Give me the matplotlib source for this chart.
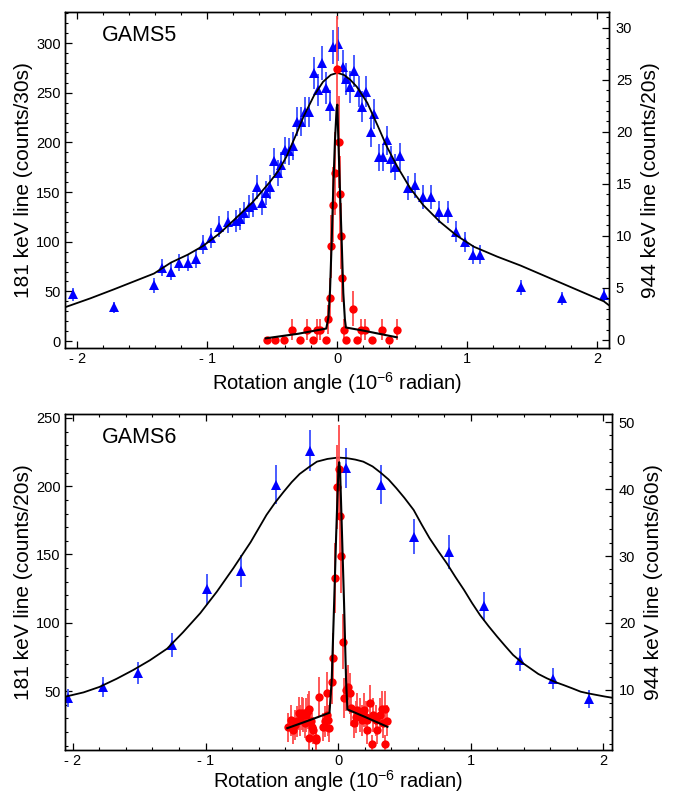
import matplotlib.pyplot as plt
from matplotlib.ticker import MultipleLocator

plt.rcParams["font.family"] = ["Liberation Sans", "DejaVu Sans"]
plt.rcParams["mathtext.fontset"] = "custom"
plt.rcParams["mathtext.rm"] = "Liberation Sans"

# ---------------- GAMS5 ----------------
g5_blue_x = [-2.03, -1.72, -1.41, -1.35, -1.28, -1.22, -1.15, -1.09, -1.03, -0.97,
             -0.91, -0.84, -0.78, -0.75, -0.72, -0.68, -0.65, -0.62, -0.58, -0.55,
             -0.52, -0.49, -0.46, -0.43, -0.40, -0.37, -0.34, -0.31, -0.28, -0.25,
             -0.22, -0.18, -0.15, -0.12, -0.09, -0.06, -0.03, 0.005, 0.04, 0.07,
             0.10, 0.13, 0.17, 0.19, 0.22, 0.26, 0.28, 0.32, 0.35, 0.38,
             0.41, 0.44, 0.48, 0.54, 0.60, 0.66, 0.72, 0.78, 0.85, 0.91,
             0.98, 1.04, 1.10, 1.41, 1.73, 2.05]
g5_blue_y = [47, 34, 56, 74, 70, 79, 79, 83, 97, 104,
             115, 120, 121, 123, 129, 135, 137, 155, 139, 149,
             155, 181, 169, 177, 192, 191, 196, 221, 221, 231,
             231, 270, 253, 280, 255, 237, 296, 299, 276, 264,
             256, 272, 251, 236, 251, 210, 229, 185, 185, 202,
             183, 175, 186, 154, 157, 145, 145, 130, 130, 110,
             100, 87, 87, 54, 43, 46]
g5_blue_err = [6.9, 5.8, 7.5, 8.6, 8.4, 8.9, 8.9, 9.1, 9.8, 10.2,
               10.7, 11.0, 11.0, 11.1, 11.4, 11.6, 11.7, 12.4, 11.8, 12.2,
               12.4, 13.5, 13.0, 13.3, 13.9, 13.8, 14.0, 14.9, 14.9, 15.2,
               15.2, 16.4, 15.9, 16.7, 16.0, 15.4, 17.2, 17.3, 16.6, 16.2,
               16.0, 16.5, 15.8, 15.4, 15.8, 14.5, 15.1, 13.6, 13.6, 14.2,
               13.5, 13.2, 13.6, 12.4, 12.5, 12.0, 12.0, 11.4, 11.4, 10.5,
               10.0, 9.3, 9.3, 7.3, 6.6, 6.8]

g5_red_x = [-0.54, -0.48, -0.41, -0.35, -0.29, -0.23, -0.19, -0.16, -0.13, -0.09,
            -0.07, -0.06, -0.045, -0.033, -0.02, -0.003, 0.01, 0.023, 0.028, 0.038,
            0.054, 0.07, 0.12, 0.15, 0.18, 0.21, 0.27, 0.34, 0.40, 0.46]
g5_red_y = [0, 0, 0, 1, 0, 1, 0, 1, 1, 0,
            2, 4, 9, 13, 16, 26, 19, 14, 10, 6,
            1, 0, 3, 0, 1, 1, 0, 1, 0, 1]
g5_red_err = [0, 0, 0, 1, 0, 1, 0, 1, 1, 0,
              1.4, 2.0, 3.0, 3.6, 4.0, 5.1, 4.4, 3.7, 3.2, 2.4,
              1, 0, 1.7, 0, 1, 1, 0, 1, 0, 1]

g5_blue_fit_x = [-2.095, -1.9, -1.72, -1.41, -1.28, -1.15, -1.03, -0.90, -0.77, -0.65,
                 -0.52, -0.45, -0.39, -0.31, -0.26, -0.18, -0.11, -0.05, 0.0, 0.05,
                 0.10, 0.15, 0.23, 0.31, 0.38, 0.46, 0.56, 0.66, 0.79, 0.92,
                 1.05, 1.23, 1.41, 1.73, 2.05, 2.09]
g5_blue_fit_y = [34, 43, 52, 68, 79, 87, 96, 109, 125, 140,
                 160, 172, 186, 210, 226, 247, 261, 268, 270, 268,
                 263, 256, 240, 217, 196, 176, 154, 137, 120, 106,
                 95, 85, 76, 58, 40, 36]

g5_red_fit_x = [-0.55, -0.30, -0.085, -0.068, -0.056, -0.043, -0.031, -0.018, -0.005, 0.0,
                0.008, 0.021, 0.034, 0.046, 0.058, 0.066, 0.20, 0.457]
g5_red_fit_y = [0.16, 0.6, 1.1, 2.2, 4.8, 9.6, 14.7, 19.2, 22.3, 22.6,
                19.2, 14.1, 9.3, 4.5, 2.0, 1.2, 0.9, 0.26]

# ---------------- GAMS6 ----------------
g6_blue_x = [-2.035, -1.77, -1.51, -1.25, -0.99, -0.73, -0.47, -0.21,
             0.06, 0.32, 0.57, 0.84, 1.10, 1.37, 1.62, 1.89]
g6_blue_y = [45, 52.7, 63, 83.7, 124.5, 138, 201, 226,
             213.6, 201, 163, 152, 112, 73, 59, 44]
g6_blue_err = [6.7, 7.3, 7.9, 9.1, 11.2, 11.7, 14.2, 15.0,
               14.6, 14.2, 12.8, 12.3, 10.6, 8.5, 7.7, 6.6]

g6_red_x = [-0.375, -0.357, -0.342, -0.325, -0.31, -0.298, -0.287, -0.275, -0.262, -0.25,
            -0.24, -0.228, -0.217, -0.217, -0.208, -0.199, -0.186, -0.17, -0.168, -0.146,
            -0.111, -0.098, -0.085, -0.081, -0.073, -0.066, -0.048, -0.04, -0.023, -0.01,
            0.005, 0.015, 0.025, 0.035, 0.045, 0.06, 0.078, 0.09, 0.10, 0.12,
            0.133, 0.146, 0.166, 0.179, 0.196, 0.208, 0.217, 0.22, 0.24, 0.254,
            0.266, 0.287, 0.297, 0.317, 0.33, 0.342, 0.357, 0.357, 0.372]
g6_red_y = [4.4, 5.5, 4.0, 4.8, 5.3, 6.5, 5.5, 6.5, 6.3, 5.0,
            6.3, 6.8, 7.1, 2.8, 5.3, 4.5, 4.0, 2.5, 2.8, 8.9,
            4.5, 5.3, 9.6, 6.3, 5.5, 4.3, 11.2, 14.7, 26.7, 40.3,
            43.0, 36.0, 30.0, 17.2, 8.8, 10.0, 10.5, 9.5, 7.3, 5.0,
            6.0, 7.0, 6.3, 5.5, 7.0, 6.0, 5.5, 4.0, 8.0, 1.9,
            6.3, 5.5, 4.0, 6.3, 7.1, 5.0, 7.1, 1.9, 5.4]
g6_red_err = [2.1, 2.3, 2.0, 2.2, 2.3, 2.5, 2.3, 2.5, 2.5, 2.2,
              2.5, 2.6, 2.7, 1.7, 2.3, 2.1, 2.0, 1.6, 1.7, 3.0,
              2.1, 2.3, 3.1, 2.5, 2.3, 2.1, 3.3, 3.8, 5.2, 6.3,
              6.6, 6.0, 5.5, 4.1, 3.0, 3.2, 3.2, 3.1, 2.7, 2.2,
              2.4, 2.6, 2.5, 2.3, 2.6, 2.4, 2.3, 2.0, 2.8, 1.4,
              2.5, 2.3, 2.0, 2.5, 2.7, 2.2, 2.7, 1.4, 2.3]

g6_blue_fit_x = [-2.06, -1.92, -1.80, -1.67, -1.545, -1.42, -1.29, -1.17, -1.04, -0.915,
                 -0.79, -0.66, -0.60, -0.54, -0.475, -0.41, -0.35, -0.29, -0.22, -0.16,
                 -0.08, 0.0, 0.07, 0.13, 0.19, 0.26, 0.32, 0.38, 0.44, 0.50,
                 0.57, 0.63, 0.69, 0.755, 0.82, 0.885, 0.95, 1.01, 1.07, 1.135,
                 1.20, 1.26, 1.32, 1.385, 1.45, 1.51, 1.575, 1.64, 1.70, 1.765,
                 1.83, 1.89, 1.95, 2.01, 2.066]
g6_blue_fit_y = [45.8, 49, 53, 59, 65.4, 72.5, 81, 93, 107, 122.7,
                 140, 159, 169, 179, 188, 196, 203, 209, 214, 218,
                 220, 221, 220.5, 219.5, 218, 214.5, 210, 205, 198.5, 191.5,
                 182.6, 172, 161.9, 152.5, 143.5, 133.5, 124, 114.5, 105.7, 97.5,
                 89.8, 83, 76.4, 71, 66.6, 62.5, 59.3, 56.5, 54.4, 52,
                 49.5, 48.2, 47.1, 46, 45.1]

g6_red_fit_x = [-0.383, -0.20, -0.065, -0.048, -0.030, -0.015, 0.002, 0.008,
                0.015, 0.030, 0.045, 0.060, 0.070, 0.20, 0.372]
g6_red_fit_y = [4.3, 5.6, 6.6, 11.5, 22.9, 32.9, 42.8, 44.0,
                42.8, 32.9, 22.9, 11.5, 7.1, 6.0, 4.5]

x_ticks = [-2, -1, 0, 1, 2]
x_tick_labels = ["- 2", "- 1", "0", "1", "2"]
x_label = r"Rotation angle (10$^{\mathregular{-6}}$ radian)"

BLUE = "#0000ff"
RED = "#ff0000"
BLUE_BAR = "#4a5cff"
RED_BAR = "#ff4a4a"


def style_axis(ax, side):
    ax.tick_params(axis="both", which="both", direction="in", labelsize=10.5,
                   top=(side == "left"), right=(side == "right"),
                   left=(side == "left"), bottom=(side == "left"))
    ax.tick_params(which="major", length=5, width=0.9)
    ax.tick_params(which="minor", length=2.5, width=0.8)
    for sp in ax.spines.values():
        sp.set_linewidth(1.0)


def panel(ax, name, bx, by, be, rx, ry, re, bfx, bfy, rfx, rfy,
          xlim, ylim_l, ylim_r, minor_l, minor_r, major_l, major_r,
          label_l, label_r, xpad):
    axr = ax.twinx()

    ax.errorbar(bx, by, yerr=be, fmt="^", color=BLUE, ms=7.5, mew=0,
                ecolor=BLUE_BAR, elinewidth=1.4, capsize=1.8, capthick=1.0, zorder=2)
    ax.plot(bfx, bfy, color="black", lw=1.3, zorder=3)

    axr.errorbar(rx, ry, yerr=re, fmt="o", color=RED, ms=6, mew=0,
                 ecolor=RED_BAR, elinewidth=1.3, capsize=1.8, capthick=1.0, zorder=2)
    axr.plot(rfx, rfy, color="black", lw=1.5, zorder=3)

    ax.set_xlim(*xlim)
    ax.set_ylim(*ylim_l)
    axr.set_ylim(*ylim_r)

    ax.set_xticks(x_ticks, x_tick_labels)
    ax.xaxis.set_minor_locator(MultipleLocator(0.2))
    ax.yaxis.set_major_locator(MultipleLocator(major_l))
    ax.yaxis.set_minor_locator(MultipleLocator(minor_l))
    axr.yaxis.set_major_locator(MultipleLocator(major_r))
    axr.yaxis.set_minor_locator(MultipleLocator(minor_r))

    style_axis(ax, "left")
    style_axis(axr, "right")
    ax.tick_params(axis="x", pad=3)
    ax.tick_params(axis="y", pad=3)
    axr.tick_params(axis="y", pad=5)

    ax.set_xlabel(x_label, fontsize=14.5, labelpad=xpad)
    ax.set_ylabel(label_l, fontsize=15, labelpad=2)
    axr.set_ylabel(label_r, fontsize=15, labelpad=6)

    ax.text(0.068, 0.93, name, transform=ax.transAxes, fontsize=15.5,
            ha="left", va="center")


W, H = 673, 797
fig = plt.figure(figsize=(W / 100, H / 100), dpi=100)

ax_top = fig.add_axes([65 / W, 1 - 348 / H, (609 - 65) / W, (348 - 12) / H])
panel(ax_top, "GAMS5", g5_blue_x, g5_blue_y, g5_blue_err,
      g5_red_x, g5_red_y, g5_red_err,
      g5_blue_fit_x, g5_blue_fit_y, g5_red_fit_x, g5_red_fit_y,
      (-2.095, 2.09), (-7, 331.3), (-0.77, 31.5), 10, 1, 50, 5,
      "181 keV line (counts/30s)", "944 keV line (counts/20s)", 3)

ax_bot = fig.add_axes([65 / W, 1 - 750 / H, (612 - 65) / W, (750 - 414) / H])
panel(ax_bot, "GAMS6", g6_blue_x, g6_blue_y, g6_blue_err,
      g6_red_x, g6_red_y, g6_red_err,
      g6_blue_fit_x, g6_blue_fit_y, g6_red_fit_x, g6_red_fit_y,
      (-2.06, 2.066), (6.8, 252.9), (1.04, 51.2), 10, 2, 50, 10,
      "181 keV line (counts/20s)", "944 keV line (counts/60s)", 0)

fig.savefig("out.png", dpi=100)
